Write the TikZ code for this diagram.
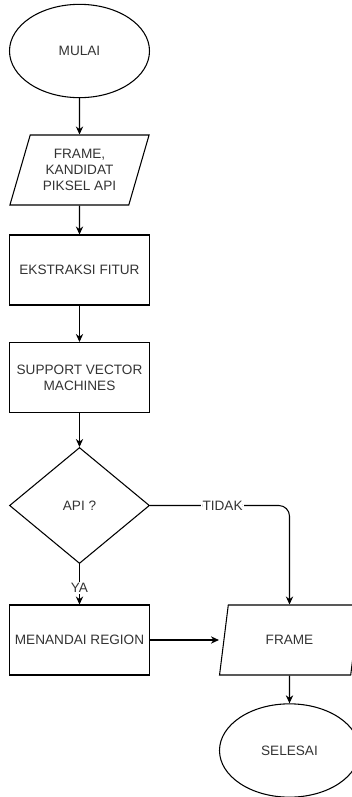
\documentclass[tikz,border=0pt]{standalone}
\usepackage{fontspec}
\setmainfont{Liberation Sans}
\usetikzlibrary{shapes.geometric,arrows.meta}

\begin{document}
\begin{tikzpicture}[x=0.75pt,y=-0.75pt,
        terminal/.style={ellipse, draw, minimum width=105pt, minimum height=70pt},
        io/.style={trapezium, trapezium left angle=70, trapezium right angle=110,
            trapezium stretches=true, draw, minimum width=105pt, minimum height=52.5pt},
        process/.style={rectangle, draw, minimum width=105pt, minimum height=52.5pt},
        decision/.style={diamond, draw, minimum width=105pt, minimum height=87pt},
        flow/.style={draw, line width=0.8pt, -{Stealth[length=6pt,width=5.5pt]}},
        lbl/.style={fill=white, inner sep=1pt},
    ]
    \useasboundingbox (0,0) rectangle (351,797);
    \begin{scope}[
            every node/.style={line width=0.8pt, inner sep=0pt, align=center,
                text=black!80, font=\fontsize{10.2}{12}\selectfont},
        ]

        \node[terminal] (1) at (79.5,51) {MULAI};
        \node[io] (2) at (79.5,170) {FRAME,\\KANDIDAT\\PIKSEL API};
        \node[process] (3) at (79.5,270) {EKSTRAKSI FITUR};
        \node[process] (4) at (79.5,377.5) {SUPPORT VECTOR\\MACHINES};
        \node[decision] (5) at (79.5,505.5) {API ?};
        \node[process] (6) at (79.5,640) {MENANDAI REGION};
        \node[io] (7) at (289.5,640) {FRAME};
        \node[terminal] (8) at (289.5,750.5) {SELESAI};

        \path[flow] (1) -- (2);
        \path[flow] (2) -- (3);
        \path[flow] (3) -- (4);
        \path[flow] (4) -- (5);
        \path[flow] (5) -- node[lbl, pos=0.6] {YA} (6);
        \path[flow, rounded corners=8pt] (5.east) -- node[lbl, pos=0.52] {TIDAK} (7.north |- 5.east) -- (7.north);
        \path[flow] (6.east) -- (7.bottom left corner |- 6.east);
        \path[flow] (7) -- (8);
    \end{scope}
\end{tikzpicture}
\end{document}
